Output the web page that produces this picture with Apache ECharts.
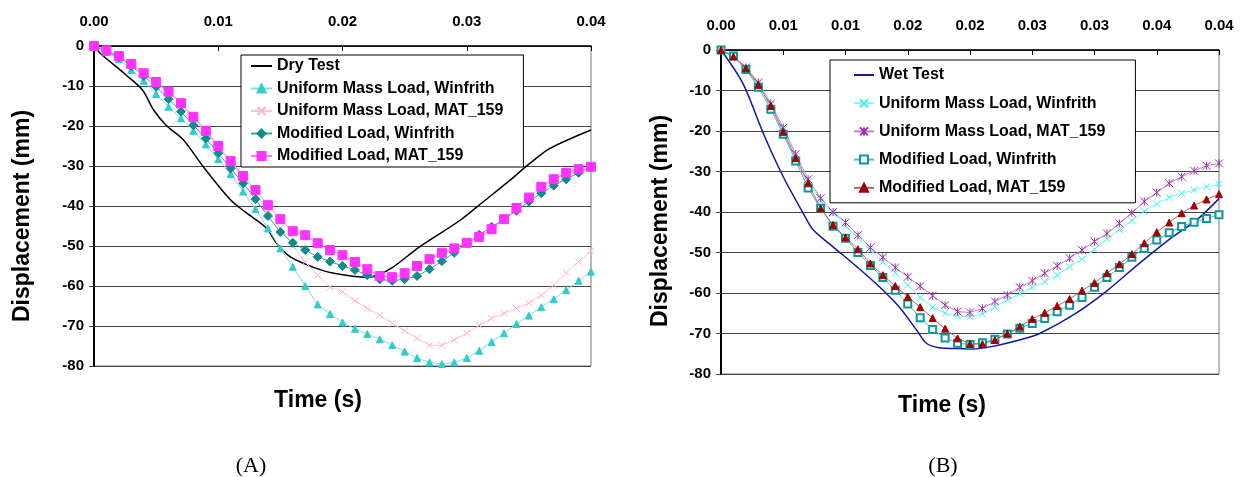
<!DOCTYPE html>
<html>
<head>
<meta charset="utf-8">
<script src="https://cdn.jsdelivr.net/npm/echarts@6/dist/echarts.min.js"></script>
<style>
html,body{margin:0;padding:0;background:#fff;}
#chart{width:1243px;height:477px;}
</style>
</head>
<body>
<div id="chart"></div>
<script>
// ---------- Data (A) ----------
const timeSteps = [0,0.001,0.002,0.003,0.004,0.005,0.006,0.007,0.008,0.009,0.010,0.011,0.012,0.013,0.014,0.015,0.016,0.017,0.018,0.019,0.020,0.021,0.022,0.023,0.024,0.025,0.026,0.027,0.028,0.029,0.030,0.031,0.032,0.033,0.034,0.035,0.036,0.037,0.038,0.039,0.040];

const dryTestTime = [0,0.0005,0.0026,0.0039,0.0048,0.0058,0.0072,0.0088,0.011,0.0123,0.0139,0.0147,0.0158,0.0179,0.0193,0.0219,0.0228,0.0241,0.0262,0.0295,0.0315,0.0332,0.0351,0.0367,0.04];
const dryTest = [0,-1.8,-7.3,-11,-16,-19.8,-23.5,-30.2,-38.5,-41.8,-45.6,-49.3,-52.7,-55.6,-56.8,-57.8,-57.3,-55.2,-50.2,-43.5,-38.5,-34.3,-29.3,-25.6,-21];

const uniformWinfrithA = [0,-1.5,-3.3,-6,-8.7,-12,-15.2,-18.1,-21.2,-24.6,-28.3,-32,-36.4,-40.8,-45.6,-50.6,-55.2,-60,-64.6,-67,-69.1,-70.7,-72,-73.3,-74.8,-76.4,-78,-79.1,-79.5,-79.1,-78,-76.2,-74,-71.8,-69.5,-67.4,-65.3,-63.3,-61,-58.7,-56.4];
const uniformMatA = [0,-1.1,-2.6,-4.6,-6.9,-9.3,-11.8,-14.7,-18,-21.5,-25.3,-29.2,-33,-37,-41,-45.5,-50,-54,-57.3,-60.3,-61.4,-63.7,-65.6,-67.3,-69.3,-71.2,-73.1,-74.8,-74.8,-73.5,-71.8,-69.8,-68.1,-66.8,-65.6,-64.3,-62.3,-59.8,-56.7,-53.9,-51.2];
const modifiedWinfrithA = [0,-1.3,-2.8,-5,-7.5,-10.2,-13.3,-16.4,-19.8,-23.1,-26.8,-30.6,-34.3,-38.3,-42.5,-46.5,-49.2,-51,-52.7,-53.9,-55,-56,-57.3,-58.3,-58.7,-58.3,-57.5,-55.8,-53.8,-51.7,-49.3,-47.2,-45.2,-43.3,-41.2,-38.9,-36.8,-34.9,-33.3,-31.7,-30.2];
const modifiedMatA = [0,-1.1,-2.5,-4.5,-6.8,-9,-11.4,-14.3,-17.7,-21.2,-25,-28.8,-32.5,-36,-39.8,-43.3,-46.3,-47.3,-49.3,-51,-52.3,-54,-55.8,-57.5,-57.8,-56.8,-55,-53.3,-51.7,-50.6,-49.2,-47.7,-45.8,-43.3,-40.5,-37.9,-35.2,-33.3,-31.7,-30.8,-30.2];

// ---------- Data (B) ----------
const wetTestTime = [0,0.00175,0.0034,0.005,0.0066,0.0074,0.009,0.0109,0.0127,0.0143,0.0157,0.0165,0.0175,0.019,0.0202,0.0216,0.0242,0.0256,0.0283,0.0309,0.0336,0.0363,0.0382,0.04];
const wetTest = [0,-8.2,-20.6,-31.3,-40.3,-44.4,-48.6,-53.5,-58.4,-63.4,-69.1,-72.4,-73.5,-73.7,-73.8,-73.3,-71.4,-70,-65.4,-59.7,-52.7,-46.1,-42,-36.7];

const uniformWinfrithB = [0,-1.5,-4.5,-8.4,-13.6,-19.6,-26.2,-32.5,-37.3,-40.3,-43.5,-46.4,-49.4,-52.3,-55,-58,-61.1,-63.5,-65,-65.7,-65.9,-65.2,-63.4,-61.7,-60.2,-58.6,-57.2,-55.6,-53.5,-51.7,-49.2,-46.7,-44.3,-42.1,-39.8,-38,-36.4,-35.4,-34.6,-33.8,-33.1];
const uniformMatB = [0,-1.5,-4.3,-8,-13.2,-19.2,-25.7,-31.9,-36.6,-40,-42.6,-45.7,-48.8,-51.2,-53.7,-56,-58.3,-60.7,-63,-64.6,-64.8,-63.8,-62.1,-60.5,-58.6,-57,-55.1,-53.3,-51.4,-49.4,-47.3,-45.3,-42.8,-40.2,-37.4,-35.2,-32.9,-31.3,-29.8,-28.6,-28];
const modifiedWinfrithB = [0,-1.5,-4.8,-9.2,-14.6,-20.8,-27.4,-34.1,-39.1,-43.5,-46.5,-50,-53.2,-56.2,-59.3,-62.7,-66.1,-69,-71.1,-72.4,-72.7,-72.3,-71.4,-70.1,-68.7,-67.5,-66.3,-64.6,-63,-61.1,-58.6,-56.2,-53.7,-51.2,-49,-46.9,-45.1,-43.6,-42.5,-41.6,-40.7];
const modifiedMatB = [0,-1.6,-4.5,-8.6,-13.8,-20.2,-26.7,-32.9,-39.1,-43.2,-46.3,-49.2,-52.7,-55.6,-58.3,-60.9,-63.5,-66.2,-68.8,-71.2,-72.6,-72.6,-71.6,-70,-68.3,-66.4,-64.9,-63.2,-61.5,-59.4,-57.5,-55.1,-52.9,-50.4,-47.7,-45,-42.6,-40.3,-38.4,-36.9,-35.6];

// ---------- Axis tick labels & texts ----------
const xTickLabelsA = ['0.00','0.01','0.02','0.03','0.04'];
const xTickLabelsB = ['0.00','0.01','0.01','0.02','0.02','0.03','0.03','0.04','0.04'];
const seriesNamesA = ['Dry Test','Uniform Mass Load, Winfrith','Uniform Mass Load, MAT_159','Modified Load, Winfrith','Modified Load, MAT_159'];
const seriesNamesB = ['Wet Test','Uniform Mass Load, Winfrith','Uniform Mass Load, MAT_159','Modified Load, Winfrith','Modified Load, MAT_159'];
const xTitle = 'Time (s)';
const yTitle = 'Displacement (mm)';
const panelLabels = ['(A)','(B)'];

const zip = (ts, vs) => ts.map((t, i) => [t, vs[i]]);

const FONT = 'Liberation Sans, Arial, sans-serif';
const X_PATH = 'path://M0,0L10,10M10,0L0,10';
const STAR_PATH = 'path://M5,0L5,10M0,0L10,10M10,0L0,10';

function xAxisCfg(gridIndex, interval, labels) {
  return {
    type: 'value', gridIndex, position: 'top', min: 0, max: 0.04, interval,
    axisLine: { show: true, onZero: false, lineStyle: { color: '#000', width: 1.5 } },
    axisTick: { show: true, inside: true, length: 5, lineStyle: { color: '#000' } },
    axisLabel: {
      margin: 17, color: '#000', fontFamily: FONT, fontWeight: 'bold', fontSize: 15,
      formatter: v => labels[Math.round(v / interval)]
    },
    splitLine: { show: false }
  };
}
function yAxisCfg(gridIndex, gap, pad) {
  return {
    type: 'value', gridIndex, min: -80, max: 0, interval: 10,
    name: yTitle, nameLocation: 'middle', nameRotate: 90, nameGap: gap,
    nameTextStyle: { color: '#000', fontFamily: FONT, fontWeight: 'bold', fontSize: 23, padding: pad },
    axisLine: { show: true, onZero: false, lineStyle: { color: '#000', width: 2 } },
    axisTick: { show: true, length: 5, lineStyle: { color: '#444' } },
    axisLabel: { margin: 10, color: '#000', fontFamily: FONT, fontWeight: 'bold', fontSize: 15 },
    splitLine: { show: true, lineStyle: { color: '#444', width: 1 } }
  };
}
function markerSeries(name, idx, data, color, lineColor, symbol, size, itemStyle) {
  return {
    name, type: 'line', xAxisIndex: idx, yAxisIndex: idx, data,
    symbol, symbolSize: size, showSymbol: true,
    lineStyle: { color: lineColor, width: 1 },
    itemStyle: itemStyle || { color: color, borderColor: color, borderWidth: 1 },
    emphasis: { disabled: true }
  };
}

const chart = echarts.init(document.getElementById('chart'), null, { renderer: 'canvas' });
const legendText = { color: '#000', fontFamily: FONT, fontWeight: 'bold', fontSize: 16 };
const hiddenSymbol = { color: 'rgba(0,0,0,0)', borderColor: 'rgba(0,0,0,0)', borderWidth: 0 };

chart.setOption({
  animation: false,
  backgroundColor: '#fff',
  grid: [
    { left: 94, top: 46, width: 497, height: 320, show: true, borderColor: '#777', borderWidth: 1, backgroundColor: '#fff', outerBoundsMode: 'none', containLabel: false },
    { left: 721, top: 50, width: 498, height: 324, show: true, borderColor: '#777', borderWidth: 1, backgroundColor: '#fff', outerBoundsMode: 'none', containLabel: false }
  ],
  xAxis: [xAxisCfg(0, 0.01, xTickLabelsA), xAxisCfg(1, 0.005, xTickLabelsB)],
  yAxis: [yAxisCfg(0, 60, [0, 20, 0, 0]), yAxisCfg(1, 49, [0, 18, 0, 0])],
  title: [
    { text: xTitle, left: 313, top: 384, textAlign: 'center', textStyle: { color: '#000', fontFamily: FONT, fontWeight: 'bold', fontSize: 23 } },
    { text: xTitle, left: 937, top: 389, textAlign: 'center', textStyle: { color: '#000', fontFamily: FONT, fontWeight: 'bold', fontSize: 23 } },
    { text: panelLabels[0], left: 246, top: 450, textAlign: 'center', textStyle: { color: '#000', fontFamily: 'Liberation Serif, Times New Roman, serif', fontWeight: 'normal', fontSize: 22 } },
    { text: panelLabels[1], left: 938, top: 450, textAlign: 'center', textStyle: { color: '#000', fontFamily: 'Liberation Serif, Times New Roman, serif', fontWeight: 'normal', fontSize: 22 } }
  ],
  legend: [
    {
      data: seriesNamesA.map((n, i) => i === 0 ? { name: n, itemStyle: hiddenSymbol } : { name: n }),
      orient: 'vertical', left: 241, top: 55,
      padding: [3, 20, 3, 9], itemGap: 6.5, itemWidth: 21, itemHeight: 10,
      backgroundColor: '#fff', borderColor: '#000', borderWidth: 1, borderRadius: 0,
      textStyle: legendText, selectedMode: false
    },
    {
      data: seriesNamesB.map((n, i) => i === 0 ? { name: n + ' ', itemStyle: hiddenSymbol } : { name: n + ' ' }),
      orient: 'vertical', left: 830, top: 60,
      padding: [7, 30, 7, 23], itemGap: 12.2, itemWidth: 20, itemHeight: 10,
      backgroundColor: '#fff', borderColor: '#000', borderWidth: 1, borderRadius: 0,
      textStyle: legendText, selectedMode: false,
      formatter: n => n.trim()
    }
  ],
  series: [
    { name: seriesNamesA[0], type: 'line', xAxisIndex: 0, yAxisIndex: 0, data: zip(dryTestTime, dryTest), symbol: 'none', smooth: 0.3,
      lineStyle: { color: '#000', width: 1.5 }, itemStyle: { color: '#000' }, emphasis: { disabled: true } },
    markerSeries(seriesNamesA[1], 0, zip(timeSteps, uniformWinfrithA), '#33CCCC', '#7FDDDD', 'triangle', 7),
    markerSeries(seriesNamesA[2], 0, zip(timeSteps, uniformMatA), '#FFB0D0', '#FFC0DC', X_PATH, 7),
    markerSeries(seriesNamesA[3], 0, zip(timeSteps, modifiedWinfrithA), '#118C8C', '#3AA3A3', 'diamond', 9),
    markerSeries(seriesNamesA[4], 0, zip(timeSteps, modifiedMatA), '#FF33FF', '#FF77FF', 'rect', 9),

    { name: seriesNamesB[0] + ' ', type: 'line', xAxisIndex: 1, yAxisIndex: 1, data: zip(wetTestTime, wetTest), symbol: 'none', smooth: 0.3,
      lineStyle: { color: '#1018A0', width: 1.5 }, itemStyle: { color: '#1018A0' }, emphasis: { disabled: true } },
    markerSeries(seriesNamesB[1] + ' ', 1, zip(timeSteps, uniformWinfrithB), '#40F0F0', '#80F8F8', X_PATH, 7),
    markerSeries(seriesNamesB[2] + ' ', 1, zip(timeSteps, uniformMatB), '#A030A8', '#C080D0', STAR_PATH, 8),
    markerSeries(seriesNamesB[3] + ' ', 1, zip(timeSteps, modifiedWinfrithB), '#0A9A9A', '#50B8B8', 'emptyRect', 7,
      { color: '#0A9A9A', borderColor: '#0A9A9A', borderWidth: 1.2 }),
    markerSeries(seriesNamesB[4] + ' ', 1, zip(timeSteps, modifiedMatB), '#A00000', '#C86060', 'triangle', 7)
  ]
});
</script>
</body>
</html>
